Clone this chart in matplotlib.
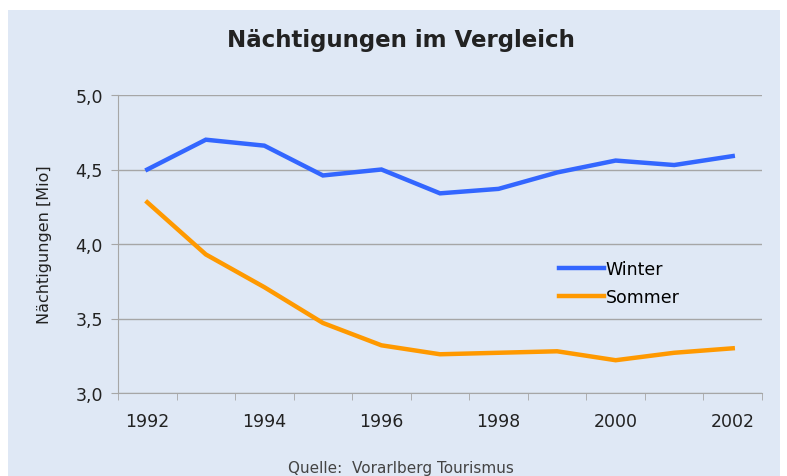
import matplotlib

matplotlib.use("Agg")
import matplotlib.pyplot as plt
import numpy as np
from matplotlib.patches import Rectangle

years = [1992, 1993, 1994, 1995, 1996, 1997, 1998, 1999, 2000, 2001, 2002]
winter = [4.50, 4.70, 4.66, 4.46, 4.50, 4.34, 4.37, 4.48, 4.56, 4.53, 4.59]
sommer = [4.28, 3.93, 3.71, 3.47, 3.32, 3.26, 3.27, 3.28, 3.22, 3.27, 3.30]
yticks = [3.0, 3.5, 4.0, 4.5, 5.0]

BG = "#dfe8f5"
GRID = "#a6a6a6"
TXT = "#222222"

fig = plt.figure(figsize=(7.87, 4.77), dpi=100, facecolor="white")
fig.patches.append(Rectangle((8 / 787, 0), 772 / 787, 466 / 477,
                             transform=fig.transFigure, facecolor=BG,
                             edgecolor="none", zorder=-5))
ax = fig.add_axes([118 / 787, 1 - 394 / 477, 644 / 787, 298 / 477])
ax.set_facecolor(BG)

x = np.arange(len(years))
ax.plot(x, winter, color="#3366ff", lw=3.2, label="Winter", solid_joinstyle="miter")
ax.plot(x, sommer, color="#ff9900", lw=3.2, label="Sommer", solid_joinstyle="miter")

ax.set_xlim(-0.5, len(years) - 0.5)
ax.set_ylim(3.0, 5.0)
ax.set_yticks(yticks)
ax.set_yticklabels([f"{v:.1f}".replace(".", ",") for v in yticks])
ax.set_xticks(x[::2])
ax.set_xticklabels([str(y) for y in years[::2]])
ax.set_xticks(np.arange(-0.5, len(years)), minor=True)
ax.tick_params(axis="x", which="major", length=0, pad=14, labelsize=12.5, labelcolor=TXT)
ax.tick_params(axis="x", which="minor", length=5, color=GRID, direction="out")
ax.tick_params(axis="y", length=5, color=GRID, pad=6, labelsize=12.5, labelcolor=TXT)

ax.grid(axis="y", color=GRID, lw=1)
ax.set_axisbelow(True)
for side in ("top", "right"):
    ax.spines[side].set_visible(False)
for side in ("left", "bottom"):
    ax.spines[side].set_color(GRID)

ax.set_ylabel("Nächtigungen [Mio]", fontsize=11.5, color=TXT, labelpad=17)
fig.text(0.51, 1 - 40 / 477, "Nächtigungen im Vergleich", ha="center", va="center",
         fontsize=16.5, fontweight="bold", color=TXT)
fig.text(0.51, 1 - 469 / 477, "Quelle:  Vorarlberg Tourismus", ha="center",
         va="center", fontsize=11, color="#444444")

ax.legend(loc="upper left", bbox_to_anchor=(0.66, 0.50), frameon=False,
          fontsize=12.5, handlelength=2.6, handletextpad=0.1, labelspacing=0.6)

fig.savefig("out.png", dpi=100, facecolor="white")
